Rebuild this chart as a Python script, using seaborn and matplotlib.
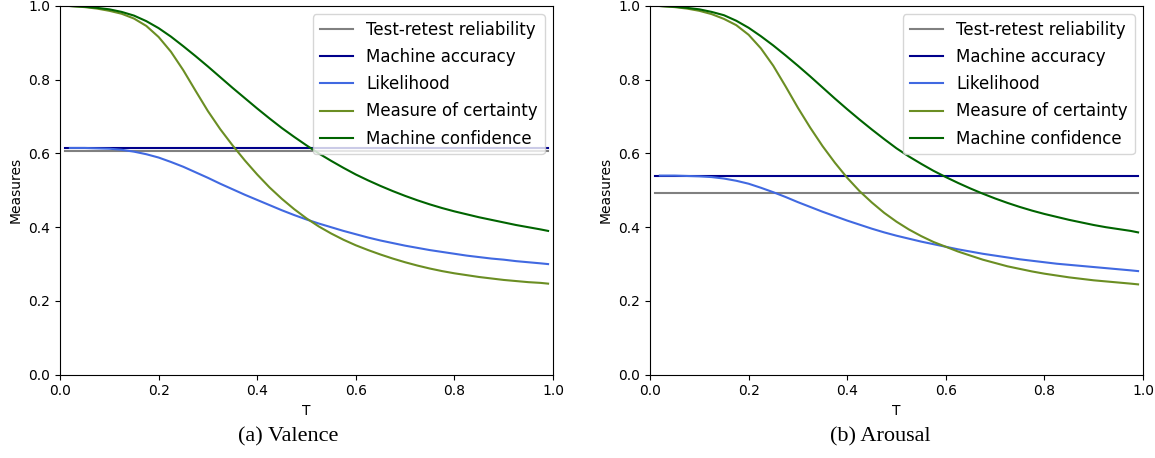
import numpy as np
import pandas as pd
import matplotlib
matplotlib.use("Agg")
import matplotlib.pyplot as plt
import seaborn as sns

# ---------------- data ----------------
T = [0.02, 0.05, 0.075, 0.1, 0.125, 0.15, 0.175, 0.2, 0.225, 0.25, 0.275, 0.3,
     0.325, 0.35, 0.375, 0.4, 0.425, 0.45, 0.475, 0.5, 0.525, 0.55, 0.575, 0.6,
     0.625, 0.65, 0.675, 0.7, 0.725, 0.75, 0.775, 0.8, 0.825, 0.85, 0.875, 0.9,
     0.925, 0.95, 0.975, 0.99]
T_flat = [0.01, 0.99]

series_names = ["Test-retest reliability", "Machine accuracy", "Likelihood",
                "Measure of certainty", "Machine confidence"]
series_colors = ["gray", "darkblue", "royalblue", "olivedrab", "darkgreen"]

# (a) Valence
val_retest = 0.607
val_accuracy = 0.615
val_likelihood = [0.615, 0.615, 0.614, 0.613, 0.610, 0.605, 0.598, 0.589, 0.577, 0.564,
                  0.549, 0.534, 0.518, 0.503, 0.488, 0.474, 0.460, 0.446, 0.433, 0.421,
                  0.410, 0.400, 0.390, 0.381, 0.372, 0.364, 0.357, 0.350, 0.344, 0.338,
                  0.333, 0.328, 0.323, 0.319, 0.315, 0.312, 0.308, 0.305, 0.302, 0.300]
val_certainty = [1.000, 0.997, 0.993, 0.987, 0.979, 0.966, 0.946, 0.916, 0.876, 0.826,
                 0.770, 0.715, 0.666, 0.622, 0.581, 0.543, 0.508, 0.477, 0.449, 0.424,
                 0.402, 0.383, 0.366, 0.351, 0.338, 0.326, 0.315, 0.305, 0.296, 0.288,
                 0.281, 0.275, 0.270, 0.265, 0.261, 0.257, 0.254, 0.251, 0.249, 0.247]
val_confidence = [1.000, 0.998, 0.995, 0.991, 0.984, 0.974, 0.959, 0.940, 0.917, 0.891,
                  0.864, 0.836, 0.807, 0.778, 0.750, 0.722, 0.695, 0.669, 0.645, 0.622,
                  0.600, 0.580, 0.561, 0.543, 0.527, 0.512, 0.498, 0.485, 0.473, 0.462,
                  0.452, 0.443, 0.435, 0.427, 0.420, 0.413, 0.406, 0.400, 0.394, 0.390]

# (b) Arousal
aro_retest = 0.494
aro_accuracy = 0.540
aro_likelihood = [0.540, 0.540, 0.539, 0.538, 0.536, 0.532, 0.526, 0.518, 0.507, 0.495,
                  0.482, 0.468, 0.455, 0.442, 0.430, 0.418, 0.407, 0.396, 0.386, 0.377,
                  0.369, 0.361, 0.354, 0.347, 0.340, 0.334, 0.328, 0.323, 0.318, 0.313,
                  0.309, 0.305, 0.301, 0.298, 0.295, 0.292, 0.289, 0.286, 0.283, 0.281]
aro_certainty = [1.000, 0.997, 0.993, 0.987, 0.978, 0.965, 0.948, 0.922, 0.885, 0.838,
                 0.782, 0.724, 0.670, 0.620, 0.575, 0.534, 0.498, 0.467, 0.439, 0.415,
                 0.394, 0.376, 0.360, 0.347, 0.334, 0.323, 0.312, 0.303, 0.294, 0.287,
                 0.280, 0.274, 0.269, 0.264, 0.260, 0.256, 0.253, 0.250, 0.247, 0.245]
aro_confidence = [1.000, 0.998, 0.995, 0.991, 0.984, 0.975, 0.960, 0.941, 0.918, 0.893,
                  0.866, 0.838, 0.809, 0.779, 0.749, 0.720, 0.692, 0.665, 0.639, 0.614,
                  0.592, 0.572, 0.553, 0.536, 0.520, 0.505, 0.491, 0.478, 0.466, 0.455,
                  0.445, 0.436, 0.428, 0.420, 0.413, 0.406, 0.400, 0.395, 0.390, 0.386]

x_ticks = [0.0, 0.2, 0.4, 0.6, 0.8, 1.0]
y_ticks = [0.0, 0.2, 0.4, 0.6, 0.8, 1.0]
captions = ["(a) Valence", "(b) Arousal"]

# ---------------- figure ----------------
fig = plt.figure(figsize=(11.55, 4.58), dpi=100)
ax_w = 493 / 1155
ax_h = 368.7 / 458
ax_b = (458 - 374.7) / 458
ax1 = fig.add_axes([60 / 1155, ax_b, ax_w, ax_h])
ax2 = fig.add_axes([650 / 1155, ax_b, ax_w, ax_h])

panels = [
    (ax1, val_retest, val_accuracy, val_likelihood, val_certainty, val_confidence),
    (ax2, aro_retest, aro_accuracy, aro_likelihood, aro_certainty, aro_confidence),
]

for ax, retest, acc, lik, cert, conf in panels:
    ys = [
        (T_flat, [retest, retest]),
        (T_flat, [acc, acc]),
        (T, lik),
        (T, cert),
        (T, conf),
    ]
    for (xs, yv), name, col in zip(ys, series_names, series_colors):
        sns.lineplot(x=xs, y=yv, ax=ax, color=col, label=name, linewidth=1.5,
                     sort=False)
    ax.set_xlim(0, 1)
    ax.set_ylim(0, 1)
    ax.set_xticks(x_ticks)
    ax.set_yticks(y_ticks)
    ax.set_xticklabels([f"{v:.1f}" for v in x_ticks], fontsize=10)
    ax.set_yticklabels([f"{v:.1f}" for v in y_ticks], fontsize=10)
    ax.set_xlabel("T", fontsize=10)
    ax.set_ylabel("Measures", fontsize=10)
    ax.legend(loc="upper right", fontsize=12, frameon=True, labelspacing=0.55)

fig.text(288 / 1155, (458 - 437) / 458, captions[0], ha="center", va="center",
         fontsize=16, family="Liberation Serif")
fig.text(880 / 1155, (458 - 437) / 458, captions[1], ha="center", va="center",
         fontsize=16, family="Liberation Serif")

fig.savefig("out.png", dpi=100)
